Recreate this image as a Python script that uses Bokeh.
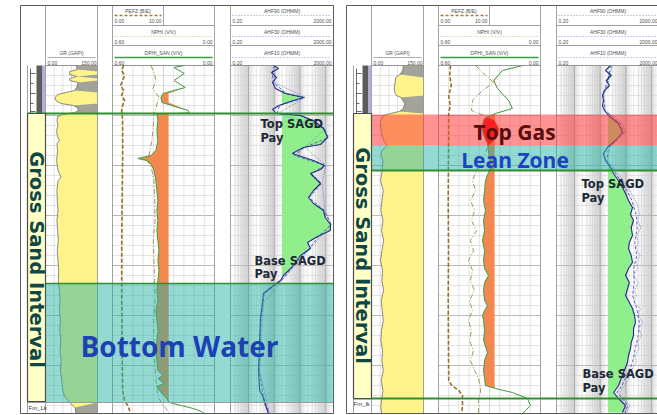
import numpy as np
from bokeh.plotting import figure
from bokeh.models import Range1d
from bokeh.embed import file_html
from bokeh.resources import INLINE
from bokeh.core.properties import value

# ------------------------------------------------------------------ data
# curves as (depth m, value) pairs read from the two well logs
L_GR = [(500.0, 88), (500.4, 92), (500.6, 70), (500.9, 70), (501.1, 90), (501.3, 70), (501.5, 70),
        (501.7, 94), (502.2, 90), (502.5, 84), (502.7, 60), (502.9, 35), (503.2, 28), (503.5, 30),
        (503.8, 45), (504.0, 80), (504.2, 92), (504.5, 95), (504.7, 85), (504.9, 50), (505.1, 35),
        (505.5, 33), (506.0, 36), (506.5, 32), (507.0, 34), (507.5, 40), (507.8, 33), (508.5, 35),
        (509.5, 32), (510.5, 36), (511.2, 45), (511.5, 36), (512.5, 33), (513.5, 34), (514.5, 36),
        (515.5, 33), (516.5, 35), (517.5, 37), (518.5, 34), (519.5, 36), (520.5, 38), (521.5, 37),
        (522.5, 40), (523.5, 42), (524.5, 40), (525.5, 43), (526.5, 41), (527.5, 44), (528.5, 42),
        (529.5, 45), (530.5, 43), (531.5, 47), (532.5, 50), (533.1, 55), (533.7, 70), (534.2, 85),
        (534.8, 88)]
L_PEFZ = [(500.0, 1.09), (500.5, 0.89), (501.0, 1.19), (501.5, 0.99), (502.0, 0.79), (502.5, 1.09),
          (503.0, 0.89), (503.5, 1.19), (504.0, 0.99), (504.5, 0.89), (505.5, 0.99), (508.5, 1.0),
          (513.5, 0.94), (518.5, 0.9), (523.5, 0.9), (528.5, 0.94), (532.5, 0.99), (533.5, 1.19),
          (534.0, 1.49), (534.5, 1.68), (534.8, 1.78)]
L_NPHI = [(500.0, 0.374), (500.7, 0.356), (501.5, 0.344), (502.3, 0.362), (503.2, 0.327), (504.2, 0.344),
          (504.8, 0.356), (506.5, 0.362), (507.5, 0.368), (509.0, 0.386), (509.5, 0.398), (510.0, 0.374),
          (511.5, 0.356), (513.5, 0.352), (515.5, 0.350), (517.5, 0.360), (519.5, 0.356), (521.5, 0.353),
          (523.5, 0.350), (525.5, 0.358), (528.5, 0.356), (530.0, 0.350), (531.5, 0.344), (533.0, 0.333),
          (533.7, 0.315), (534.3, 0.285), (534.8, 0.267)]
L_DPHI = [(500.0, 0.178), (500.2, 0.238), (500.8, 0.178), (501.5, 0.238), (502.2, 0.172), (502.8, 0.303),
          (503.2, 0.315), (503.7, 0.309), (504.5, 0.155), (504.75, 0.149), (504.85, 0.339), (505.5, 0.333),
          (506.5, 0.339), (507.5, 0.333), (508.5, 0.345), (509.0, 0.374), (509.3, 0.451), (509.5, 0.398),
          (509.8, 0.374), (510.5, 0.356), (511.5, 0.345), (512.5, 0.339), (513.5, 0.333), (514.5, 0.339),
          (515.5, 0.333), (516.5, 0.339), (517.5, 0.333), (518.5, 0.327), (519.5, 0.333), (520.5, 0.327),
          (521.5, 0.333), (522.5, 0.339), (523.5, 0.333), (524.5, 0.345), (525.5, 0.339), (526.5, 0.333),
          (527.5, 0.339), (528.5, 0.345), (529.5, 0.339), (530.5, 0.333), (531.0, 0.303), (531.3, 0.333),
          (531.8, 0.297), (532.1, 0.339), (532.7, 0.315), (533.2, 0.285), (533.7, 0.267), (534.0, 0.196),
          (534.3, 0.125), (534.6, 0.077), (534.8, 0.059)]
L_AHF90 = [(500.0, 9.4), (500.3, 14.6), (500.7, 7.8), (501.2, 12.2), (501.7, 8.6), (502.3, 11.2),
           (502.8, 27), (503.2, 137), (503.6, 43), (504.0, 15), (504.4, 8.6), (504.8, 12), (505.0, 105),
           (505.5, 334), (506.3, 819), (507.2, 1170), (507.9, 626), (508.2, 137), (508.8, 50),
           (509.5, 334), (510.0, 900), (510.4, 626), (510.8, 256), (511.3, 400), (511.8, 626),
           (512.5, 334), (513.2, 214), (513.8, 334), (514.5, 819), (515.2, 950), (515.9, 1529),
           (516.5, 1500), (517.1, 479), (517.7, 196), (518.3, 256), (519.0, 105), (519.7, 67),
           (520.3, 43), (521.0, 23), (521.5, 17.5), (522.0, 9.4), (522.8, 3.8), (523.7, 3.5),
           (525.3, 2.9), (527.5, 2.7), (530.5, 2.45), (532.5, 2.7), (533.0, 3.5), (534.0, 4.6), (534.8, 6.0)]
L_AHF30 = [(500.0, 10), (500.7, 8.5), (501.7, 9), (502.8, 30), (503.2, 150), (504.0, 16), (504.8, 13),
           (505.0, 110), (506.3, 900), (507.2, 1250), (508.2, 150), (509.0, 60), (510.0, 950), (510.8, 280),
           (511.8, 680), (513.2, 230), (514.5, 880), (515.9, 1600), (517.1, 520), (518.3, 230),
           (519.7, 72), (521.5, 19), (522.8, 4.1), (525.3, 3.1), (530.5, 2.6), (533.0, 3.7), (534.8, 6.3)]
L_AHF10 = [(500.0, 11), (501.7, 10), (503.2, 160), (504.8, 14), (506.3, 950), (508.2, 160), (510.0, 1000),
           (511.8, 720), (514.5, 930), (515.9, 1650), (518.3, 250), (521.5, 20), (523.7, 3.8),
           (530.5, 2.7), (534.8, 6.6)]

R_GR = [(500.0, 92), (500.5, 90), (500.9, 82), (501.2, 70), (501.7, 68), (502.2, 66), (502.7, 67),
        (503.0, 72), (503.2, 85), (503.8, 96), (504.3, 92), (504.6, 80), (504.8, 55), (505.0, 35),
        (505.5, 26), (506.5, 27), (507.5, 35), (508.0, 45), (508.5, 30), (509.0, 27), (509.5, 33),
        (510.5, 31), (511.5, 26), (512.5, 34), (513.5, 30), (514.5, 27), (515.5, 33), (516.5, 29),
        (517.5, 35), (518.5, 30), (519.5, 26), (520.5, 32), (521.5, 30), (522.5, 35), (523.5, 28),
        (524.5, 31), (525.5, 34), (526.5, 29), (527.5, 27), (528.5, 32), (529.5, 30), (530.5, 34),
        (531.5, 28), (532.5, 33), (533.3, 30), (534.0, 27), (534.8, 29)]
R_PEFZ = [(500.0, 1.18), (501.0, 1.1), (502.0, 1.25), (503.0, 1.0), (504.0, 1.15), (504.8, 1.0),
          (508.5, 0.98), (513.5, 0.95), (518.5, 0.98), (523.5, 0.95), (528.5, 0.98), (531.5, 1.0),
          (532.0, 1.3), (532.5, 2.0), (533.0, 2.35), (534.0, 2.35), (534.8, 2.3)]
R_NPHI = [(500.0, 0.382), (500.7, 0.341), (501.7, 0.276), (502.5, 0.341), (503.5, 0.400), (504.5, 0.406),
          (505.0, 0.330), (505.5, 0.270), (506.3, 0.245), (507.0, 0.250), (507.6, 0.280), (508.0, 0.306),
          (509.5, 0.341),
          (510.5, 0.376), (511.5, 0.400), (512.5, 0.382), (513.5, 0.412), (514.5, 0.388), (515.5, 0.406),
          (516.5, 0.376), (517.5, 0.412), (518.5, 0.394), (519.5, 0.424), (520.5, 0.400), (521.5, 0.412),
          (522.5, 0.388), (523.5, 0.418), (524.5, 0.400), (525.5, 0.424), (526.5, 0.406), (527.5, 0.418),
          (528.5, 0.394), (529.5, 0.412), (530.5, 0.388), (531.3, 0.365), (532.0, 0.353), (532.7, 0.353),
          (533.5, 0.365), (534.8, 0.365)]
R_DPHI = [(500.0, 0.106), (500.5, 0.224), (501.5, 0.276), (502.3, 0.253), (503.5, 0.188), (504.3, 0.165),
          (504.8, 0.265), (505.3, 0.330), (506.2, 0.345), (507.0, 0.333), (507.8, 0.312), (508.5, 0.306),
          (509.3, 0.300), (510.0, 0.294), (510.7, 0.306), (511.5, 0.324), (512.5, 0.329), (513.5, 0.335),
          (514.5, 0.324), (515.5, 0.335), (516.5, 0.329), (517.5, 0.341), (518.5, 0.329), (519.5, 0.335),
          (520.3, 0.329), (521.0, 0.306), (521.7, 0.329), (522.5, 0.335), (523.5, 0.329), (524.0, 0.312),
          (524.5, 0.329), (525.0, 0.341), (525.5, 0.335), (526.5, 0.329), (527.5, 0.335), (528.7, 0.312),
          (529.5, 0.329), (530.5, 0.335), (531.3, 0.329), (532.0, 0.324), (532.3, 0.265), (532.7, 0.165),
          (533.3, 0.076), (534.0, 0.059), (534.5, 0.088), (534.8, 0.106)]
R_AHF90 = [(500.0, 25), (500.5, 16), (501.0, 27), (501.5, 17), (502.0, 23), (502.5, 14.6), (503.0, 12.2),
           (503.5, 13.4), (504.0, 12.2), (504.5, 14.6), (505.0, 21), (505.8, 51), (506.7, 73), (507.5, 39),
           (508.2, 19), (508.8, 13.4), (509.5, 16), (510.2, 25), (510.8, 33), (511.5, 51), (512.2, 73),
           (512.8, 96), (513.5, 125), (514.2, 179), (514.9, 150), (515.5, 196), (516.2, 160), (517.0, 179),
           (517.7, 135), (518.3, 125), (519.0, 160), (519.7, 179), (520.3, 125), (521.0, 96), (521.7, 135),
           (522.5, 110), (523.0, 96), (523.7, 135), (524.3, 179), (525.0, 215), (525.7, 234), (526.3, 196),
           (527.0, 196), (527.7, 160), (528.3, 150), (529.0, 125), (529.7, 114), (530.2, 96), (530.7, 80),
           (531.3, 65), (532.0, 51), (532.7, 33), (533.3, 51), (534.0, 96), (534.7, 73)]
R_AHF30 = [(500.0, 27), (501.5, 19), (503.0, 13), (504.5, 15), (505.8, 60), (506.7, 85), (508.2, 21),
           (509.5, 18), (510.8, 40), (512.2, 95), (513.5, 170), (514.9, 250), (516.2, 270), (517.7, 220),
           (519.0, 260), (520.3, 200), (521.7, 210), (523.0, 180), (524.3, 260), (525.7, 330), (527.0, 300),
           (528.3, 230), (529.7, 180), (530.7, 120), (532.0, 70), (532.7, 45), (534.0, 120), (534.7, 90)]
R_AHF10 = [(500.0, 30), (501.5, 21), (503.0, 14), (504.5, 16), (505.8, 70), (506.7, 100), (508.2, 24),
           (509.5, 20), (510.8, 48), (512.2, 120), (513.5, 230), (514.2, 300), (514.9, 330), (515.5, 280),
           (516.2, 380), (517.0, 260), (517.7, 300), (518.3, 240), (519.0, 350), (519.7, 260), (520.3, 280),
           (521.0, 200), (521.7, 290), (522.5, 220), (523.0, 250), (523.7, 210), (524.3, 360), (525.0, 300),
           (525.7, 450), (526.3, 320), (527.0, 400), (527.7, 280), (528.3, 320), (529.0, 230), (529.7, 250),
           (530.2, 180), (530.7, 160), (531.3, 130), (532.0, 90), (532.7, 55), (533.3, 80), (534.0, 140),
           (534.7, 100)]

# zones (m)
L_PAY_TOP, L_WATER_TOP, L_WATER_BASE, L_SAND_BASE = 504.8, 521.8, 533.7, 533.6
R_GAS_TOP, R_GAS_BASE, R_LEAN_BASE, R_PAY_BASE, R_SAND_BASE = 504.9, 508.0, 510.5, 533.3, 533.3
LOG_TOP, LOG_BASE = 500.0, 534.8

# scales and cut-offs
GR_SCALE = (0.0, 150.0)
POR_SCALE = (0.60, 0.00)
PEF_SCALE = (0.0, 10.0)
RES_SCALE = (0.2, 2000.0)
GR_CUT, POR_CUT, RES_CUT = 75.0, 0.27, 20.0

# ------------------------------------------------------------------ figure
W, H = 657, 415
FRAME_TOP = 493.5          # depth shown at the top edge of the picture
FRAME_BOT = 535.0
PX = 10.0                  # pixels per metre


def hy(ypx):
    """header layout helper: pixel row -> depth coordinate"""
    return FRAME_TOP + ypx / PX


def unzip(pairs):
    a = np.array(pairs, dtype=float)
    return a[:, 0], a[:, 1]


def lin(tr, v, lo, hi):
    v = np.asarray(v, dtype=float)
    return tr[0] + (v - lo) / (hi - lo) * (tr[1] - tr[0])


def logx(tr, v, lo, hi):
    v = np.asarray(v, dtype=float)
    return tr[0] + (np.log10(v) - np.log10(lo)) / (np.log10(hi) - np.log10(lo)) * (tr[1] - tr[0])


p = figure(width=W, height=H, x_range=Range1d(0, W), y_range=Range1d(FRAME_BOT, FRAME_TOP),
           output_backend="svg", toolbar_location=None, x_axis_location=None, y_axis_location=None,
           min_border=0)
p.grid.visible = False
p.outline_line_color = None
p.background_fill_color = "white"
p.border_fill_color = "white"

YELLOW = "#fff385"
SHALE = "#9a9a9a"
ORANGE = "#f4894f"
GASRED = "#f00000"
GREEN = "#90ee8c"
TEAL = "#22b0a4"
BANDRED = "#ff3a3a"
HFONT = value("Liberation Sans")


def draw_panel(o, gr, pef, nphi, dphi, r90, r30, r10, gas=None):
    T_GR = (o + 45, o + 97)
    T_POR = (o + 112, o + 214)
    T_RES = (o + 230, o + 333)

    # ---- resistivity column shading (log-grid look)
    ql, qr, qa = [], [], []
    for dec in [1, 10, 100, 1000]:
        xp = float(logx(T_RES, dec, *RES_SCALE))
        n = 7
        for i in range(n):
            ql.append(xp - 15 + i * 15 / n)
            qr.append(xp - 15 + (i + 1) * 15 / n)
            qa.append(0.05 + 0.05 * i)
        for i in range(3):
            ql.append(xp + i * 2)
            qr.append(xp + (i + 1) * 2)
            qa.append(0.25 - 0.08 * i)
    ql = np.clip(ql, T_RES[0], T_RES[1])
    qr = np.clip(qr, T_RES[0], T_RES[1])
    p.quad(left=ql, right=qr, top=[LOG_TOP] * len(ql), bottom=[LOG_BASE] * len(ql),
           fill_color="#8c8c8c", fill_alpha=qa, line_color=None)

    # ---- grids
    x0, x1, y0, y1, cc, ww = [], [], [], [], [], []
    for d in range(500, 535):
        major = (d % 5 == 0)
        for tr in (T_GR, T_POR, T_RES):
            x0.append(tr[0]); x1.append(tr[1]); y0.append(d); y1.append(d)
            cc.append("#a8a8a8" if major else "#d2d2d2"); ww.append(0.8 if major else 0.6)
    for k in range(1, 6):
        xv = T_GR[0] + k * (T_GR[1] - T_GR[0]) / 6
        x0.append(xv); x1.append(xv); y0.append(LOG_TOP); y1.append(LOG_BASE); cc.append("#cfcfcf"); ww.append(0.6)
    for k in range(1, 10):
        xv = T_POR[0] + k * (T_POR[1] - T_POR[0]) / 10
        x0.append(xv); x1.append(xv); y0.append(LOG_TOP); y1.append(LOG_BASE)
        cc.append("#b8b8b8" if k == 5 else "#cfcfcf"); ww.append(0.6)
    for e in range(-1, 4):
        for m in range(1, 10):
            v = m * 10.0 ** e
            if RES_SCALE[0] < v < RES_SCALE[1]:
                xv = float(logx(T_RES, v, *RES_SCALE))
                x0.append(xv); x1.append(xv); y0.append(LOG_TOP); y1.append(LOG_BASE)
                cc.append("#a0a0a0" if m == 1 else "#cdcdcd"); ww.append(0.8 if m == 1 else 0.5)
    p.segment(x0=x0, y0=y0, x1=x1, y1=y1, line_color=cc, line_width=ww)

    # ---- GR with sand / shale fill
    d, v = unzip(gr)
    xg = lin(T_GR, v, *GR_SCALE)
    right = np.full_like(xg, T_GR[1])
    p.harea(x1=xg, x2=right, y=d, fill_color=YELLOW, fill_alpha=0.95)
    p.harea(x1=np.where(v > GR_CUT, xg, right), x2=right, y=d, fill_color=SHALE, fill_alpha=0.9)
    p.line(xg, d, line_color="#6e6e6e", line_width=0.8)

    # ---- porosity fills
    dd, vd = unzip(dphi)
    xd = lin(T_POR, vd, *POR_SCALE)
    xcut = float(lin(T_POR, POR_CUT, *POR_SCALE))
    p.harea(x1=xd, x2=np.maximum(xd, xcut), y=dd, fill_color=ORANGE)
    dn, vn = unzip(nphi)
    xn = lin(T_POR, vn, *POR_SCALE)
    if gas is not None:
        zz = np.linspace(gas[0], gas[1], 80)
        a = np.interp(zz, dd, xd)
        b = np.interp(zz, dn, xn)
        p.harea(x1=a, x2=np.maximum(a, b), y=zz, fill_color=GASRED)

    # ---- resistivity fill
    dr, vr = unzip(r90)
    xr = logx(T_RES, vr, *RES_SCALE)
    xrc = float(logx(T_RES, RES_CUT, *RES_SCALE))
    p.harea(x1=np.full_like(xr, xrc), x2=np.maximum(xr, xrc), y=dr, fill_color=GREEN)

    # ---- curves
    dp, vp = unzip(pef)
    p.line(lin(T_POR, vp, *PEF_SCALE), dp, line_color="#94711f", line_width=1.6, line_dash="4 2")
    p.line(xn, dn, line_color="#a89352", line_width=1.0, line_dash="5 2 1 2")
    p.line(xd, dd, line_color="#3c9c41", line_width=1.0)
    d3, v3 = unzip(r30)
    d1, v1 = unzip(r10)
    p.line(logx(T_RES, v1, *RES_SCALE), d1, line_color="#7a7fd0", line_width=0.9, line_dash="1 1")
    p.line(logx(T_RES, v3, *RES_SCALE), d3, line_color="#5b4fb5", line_width=0.9, line_dash="3 2")
    p.line(xr, dr, line_color="#1f2c8c", line_width=1.1)

    # ---- frames
    fx0, fx1, fy0, fy1 = [], [], [], []
    for xv in (T_GR[0], T_GR[1], T_POR[0], T_POR[1], T_RES[0], T_RES[1]):
        fx0.append(xv); fx1.append(xv); fy0.append(hy(5)); fy1.append(LOG_BASE)
    for tr in (T_GR, T_POR, T_RES):
        fx0.append(tr[0]); fx1.append(tr[1]); fy0.append(LOG_TOP); fy1.append(LOG_TOP)
    for tr in (T_POR, T_RES):
        for yy in (25, 45):
            fx0.append(tr[0]); fx1.append(tr[1]); fy0.append(hy(yy)); fy1.append(hy(yy))
    fx0.append(o + 163); fx1.append(o + 163); fy0.append(hy(5)); fy1.append(hy(25))
    fx0.append(o + 27); fx1.append(o + 27); fy0.append(LOG_TOP); fy1.append(LOG_BASE)
    p.segment(x0=fx0, y0=fy0, x1=fx1, y1=fy1, line_color="#8a8a8a", line_width=0.8)
    p.quad(left=[o + 20], right=[o + 333], top=[hy(5)], bottom=[LOG_BASE],
           fill_color=None, line_color="#5a5a5a", line_width=1.0)

    # ---- header curve keys
    p.line([T_GR[0] + 2, T_GR[1] - 2], [hy(57), hy(57)], line_color="#9a9a9a", line_width=0.8)
    p.line([T_POR[0] + 2, o + 161], [hy(15), hy(15)], line_color="#a67c2a", line_width=1.4, line_dash="3 2")
    p.line([T_POR[0] + 2, T_POR[1] - 2], [hy(36), hy(36)], line_color="#b8a86a", line_width=0.8, line_dash="1 2")
    p.line([T_POR[0] + 2, T_POR[1] - 2], [hy(57), hy(57)], line_color="#3c9c41", line_width=1.6)
    for yy in (15, 36, 57):
        p.line([T_RES[0] + 2, T_RES[1] - 2], [hy(yy), hy(yy)], line_color="#7a7fd0",
               line_width=0.8, line_dash="1 2")

    tx, ty, tt, ta = [], [], [], []

    def lab(x, ypx, t, al):
        tx.append(x); ty.append(hy(ypx)); tt.append(t); ta.append(al)

    lab((T_GR[0] + T_GR[1]) / 2, 52, "GR (GAPI)", "center")
    lab(T_GR[0] + 2, 62, "0.00", "left"); lab(T_GR[1] - 1, 62, "150.00", "right")
    lab((T_POR[0] + o + 163) / 2, 10, "PEFZ (B/E)", "center")
    lab(T_POR[0] + 2, 20, "0.00", "left"); lab(o + 161, 20, "10.00", "right")
    lab((T_POR[0] + T_POR[1]) / 2, 31, "NPHI (V/V)", "center")
    lab(T_POR[0] + 2, 41, "0.60", "left"); lab(T_POR[1] - 2, 41, "0.00", "right")
    lab((T_POR[0] + T_POR[1]) / 2, 52, "DPHI_SAN (V/V)", "center")
    lab(T_POR[0] + 2, 62, "0.60", "left"); lab(T_POR[1] - 2, 62, "0.00", "right")
    for (ypx, name) in ((10, "AHF90 (OHMM)"), (31, "AHF30 (OHMM)"), (52, "AHF10 (OHMM)")):
        lab((T_RES[0] + T_RES[1]) / 2, ypx, name, "center")
        lab(T_RES[0] + 2, ypx + 10, "0.20", "left"); lab(T_RES[1] - 2, ypx + 10, "2000.00", "right")
    p.text(x=tx, y=ty, text=tt, text_align=ta, text_baseline="middle", text_font=HFONT,
           text_font_size="5px", text_color="#505050")

    # ---- depth track decorations above the sand
    p.quad(left=[o + 36], right=[o + 42], top=[LOG_TOP], bottom=[504.8], fill_color="#5c5c5c", line_color=None)
    p.quad(left=[o + 42], right=[o + 44.5], top=[LOG_TOP], bottom=[504.8], fill_color="#aeb0e6", line_color=None)
    p.segment(x0=[o + 30] * 5, x1=[o + 35, o + 33, o + 35, o + 33, o + 35],
              y0=[500.8, 501.8, 502.8, 503.8, 504.6], y1=[500.8, 501.8, 502.8, 503.8, 504.6],
              line_color="#444444", line_width=0.8)
    p.line([o + 30, o + 30], [500.3, 504.8], line_color="#444444", line_width=0.8)


draw_panel(0, L_GR, L_PEFZ, L_NPHI, L_DPHI, L_AHF90, L_AHF30, L_AHF10)
draw_panel(326, R_GR, R_PEFZ, R_NPHI, R_DPHI, R_AHF90, R_AHF30, R_AHF10, gas=(R_GAS_TOP, R_GAS_BASE))

# ---- zone overlays
p.quad(left=[45], right=[333], top=[L_WATER_TOP], bottom=[L_WATER_BASE], fill_color=TEAL, fill_alpha=0.48, line_color=None)
p.quad(left=[371], right=[659], top=[R_GAS_TOP], bottom=[R_GAS_BASE], fill_color=BANDRED, fill_alpha=0.55, line_color=None)
p.quad(left=[371], right=[659], top=[R_GAS_BASE], bottom=[R_LEAN_BASE], fill_color=TEAL, fill_alpha=0.48, line_color=None)
p.segment(x0=[0 + 27, 45, 0 + 27], x1=[333, 333, 333], y0=[L_PAY_TOP, L_WATER_TOP, L_WATER_BASE],
          y1=[L_PAY_TOP, L_WATER_TOP, L_WATER_BASE], line_color=["#2f8f2f", "#2f8f2f", "#9a9a9a"],
          line_width=[2.0, 1.6, 1.0])
p.segment(x0=[371, 353], x1=[659, 659], y0=[R_LEAN_BASE, R_PAY_BASE], y1=[R_LEAN_BASE, R_PAY_BASE],
          line_color="#2f8f2f", line_width=2.0)

# ---- Gross Sand Interval boxes
p.quad(left=[27, 353], right=[45, 371], top=[L_PAY_TOP, L_PAY_TOP], bottom=[L_SAND_BASE, R_SAND_BASE],
       fill_color="#ffffc6", line_color="#4d4d4d", line_width=1.2)
p.text(x=[36, 362], y=[519.4, 519.0], text=["Gross Sand Interval"] * 2, angle=-np.pi / 2,
       text_align="center", text_baseline="middle", text_font=value("DejaVu Sans"),
       text_font_style="bold", text_font_size="19.5px", text_color="#0f4646")

# formation tops labels
p.text(x=[28, 353], y=[534.2, 533.8], text=["Fm_Lk", "Fm_lk"], text_baseline="middle",
       text_font=HFONT, text_font_size="6px", text_color="#333333")

# ---- annotations
p.text(x=[260, 260, 254, 254, 581, 581, 582, 582],
       y=[505.8, 507.2, 519.5, 520.8, 511.8, 513.2, 530.8, 532.2],
       text=["Top SAGD", "Pay", "Base SAGD", "Pay", "Top SAGD", "Pay", "Base SAGD", "Pay"],
       text_align="left", text_baseline="middle", text_font=value("DejaVu Sans"),
       text_font_style="bold", text_font_size="11.5px", text_color="#1d2a36")
p.text(x=[179], y=[528.0], text=["Bottom Water"], text_align="center", text_baseline="middle",
       text_font=value("Open Sans"), text_font_style="bold", text_font_size="28px", text_color="#1a42b4")
p.text(x=[514], y=[506.6], text=["Top Gas"], text_align="center", text_baseline="middle",
       text_font=value("Open Sans"), text_font_style="bold", text_font_size="21px", text_color="#5a0d0d")
p.text(x=[514.5], y=[509.4], text=["Lean Zone"], text_align="center", text_baseline="middle",
       text_font=value("Open Sans"), text_font_style="bold", text_font_size="21px", text_color="#1a44c4")

open("out.html", "w").write(file_html(p, INLINE))
